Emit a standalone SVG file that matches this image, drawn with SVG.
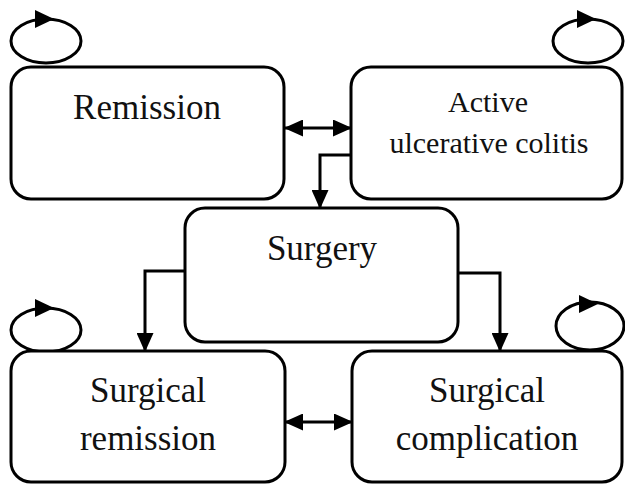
<svg xmlns="http://www.w3.org/2000/svg" width="625" height="485" viewBox="0 0 625 485">
<style>
.box{fill:#fff;stroke:#000;stroke-width:3}
.loop{fill:none;stroke:#000;stroke-width:3}
.edge{fill:none;stroke:#000;stroke-width:3}
.lbl{font-family:"Liberation Serif","Times New Roman",serif;font-size:35px;fill:#111;text-anchor:middle}
.sm{font-size:30px}
</style>
<defs>
<marker id="ah" markerUnits="userSpaceOnUse" markerWidth="19" markerHeight="17" refX="18" refY="8.5" orient="auto-start-reverse" viewBox="0 0 19 17">
<path d="M0,0 L19,8.5 L0,17 z" fill="#000"/>
</marker>
<path id="lh" d="M-9,-9 L10,0 L-9,9 z" fill="#000"/>
</defs>
<rect width="625" height="485" fill="#fff"/>
<g id="connectors">
<line class="edge" x1="285" y1="128" x2="351" y2="128" marker-start="url(#ah)" marker-end="url(#ah)"/>
<polyline class="edge" points="351,155 320,155 320,208" marker-end="url(#ah)"/>
<polyline class="edge" points="185,271 145,271 145,351" marker-end="url(#ah)"/>
<polyline class="edge" points="458,273 500,273 500,351" marker-end="url(#ah)"/>
<line class="edge" x1="285" y1="422" x2="352" y2="422" marker-start="url(#ah)" marker-end="url(#ah)"/>
</g>
<g id="remission">
<ellipse class="loop" cx="46" cy="41" rx="35" ry="22"/>
<use href="#lh" x="44" y="19"/>
<rect class="box" x="11" y="67" width="273" height="132" rx="20"/>
<text class="lbl" x="147" y="119">Remission</text>
</g>
<g id="active">
<ellipse class="loop" cx="588" cy="41" rx="35" ry="22"/>
<use href="#lh" x="586" y="19"/>
<rect class="box" x="351" y="67" width="271" height="132" rx="20"/>
<text class="lbl sm" x="488" y="112">Active</text>
<text class="lbl sm" x="489" y="153">ulcerative colitis</text>
</g>
<g id="surgery">
<rect class="box" x="185" y="208" width="273" height="134" rx="20"/>
<text class="lbl" x="322" y="260">Surgery</text>
</g>
<g id="surgical-remission">
<ellipse class="loop" cx="46" cy="330" rx="35" ry="22"/>
<use href="#lh" x="44" y="308"/>
<rect class="box" x="11" y="351" width="274" height="131" rx="20"/>
<text class="lbl" x="148" y="402">Surgical</text>
<text class="lbl" x="148" y="450">remission</text>
</g>
<g id="surgical-complication">
<ellipse class="loop" cx="590" cy="326" rx="34" ry="24"/>
<use href="#lh" x="588" y="304"/>
<rect class="box" x="352" y="351" width="270" height="131" rx="20"/>
<text class="lbl" x="487" y="402">Surgical</text>
<text class="lbl" x="487" y="450">complication</text>
</g>
</svg>
